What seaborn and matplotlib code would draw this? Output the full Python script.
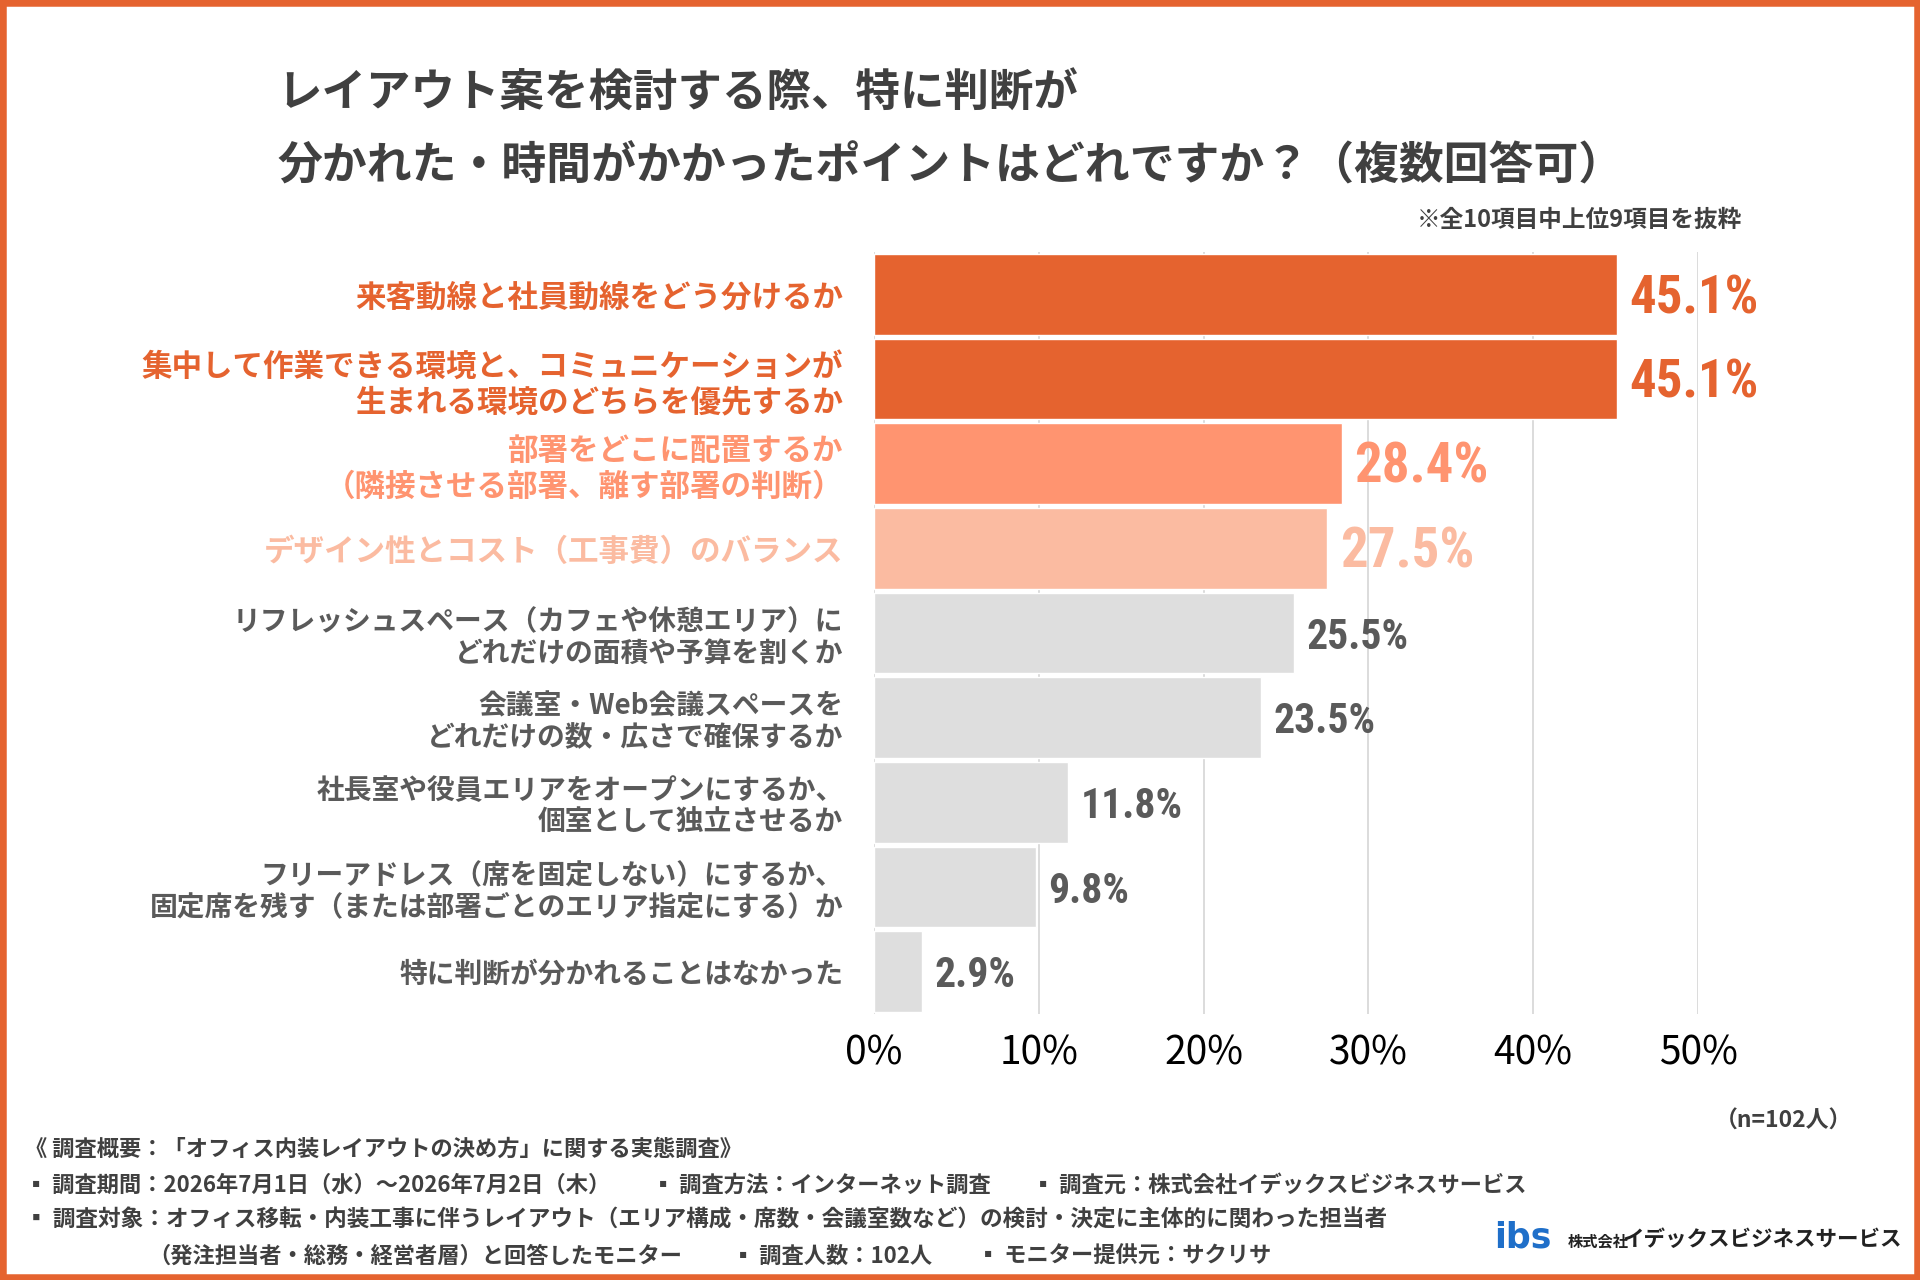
import matplotlib
matplotlib.use('Agg')
import matplotlib.pyplot as plt
from matplotlib import font_manager
import seaborn as sns
import pandas as pd
from matplotlib.patches import Rectangle

# ---------------- data ----------------
categories = [
    "来客動線と社員動線をどう分けるか",
    "集中して作業できる環境と、コミュニケーションが\n生まれる環境のどちらを優先するか",
    "部署をどこに配置するか\n（隣接させる部署、離す部署の判断）",
    "デザイン性とコスト（工事費）のバランス",
    "リフレッシュスペース（カフェや休憩エリア）に\nどれだけの面積や予算を割くか",
    "会議室・Web会議スペースを\nどれだけの数・広さで確保するか",
    "社長室や役員エリアをオープンにするか、\n個室として独立させるか",
    "フリーアドレス（席を固定しない）にするか、\n固定席を残す（または部署ごとのエリア指定にする）か",
    "特に判断が分かれることはなかった",
]
values = [45.1, 45.1, 28.4, 27.5, 25.5, 23.5, 11.8, 9.8, 2.9]
x_ticks = [0, 10, 20, 30, 40, 50]
x_tick_labels = ["0%", "10%", "20%", "30%", "40%", "50%"]

title_lines = ["レイアウト案を検討する際、特に判断が",
               "分かれた・時間がかかったポイントはどれですか？（複数回答可）"]
note_text = "※全10項目中上位9項目を抜粋"
n_text = "（n=102人）"
footer_lines = [
    "《 調査概要：「オフィス内装レイアウトの決め方」に関する実態調査》",
    "▪ 調査期間：2026年7月1日（水）～2026年7月2日（木）",
    "▪ 調査方法：インターネット調査",
    "▪ 調査元：株式会社イデックスビジネスサービス",
    "▪ 調査対象：オフィス移転・内装工事に伴うレイアウト（エリア構成・席数・会議室数など）の検討・決定に主体的に関わった担当者",
    "（発注担当者・総務・経営者層）と回答したモニター",
    "▪ 調査人数：102人",
    "▪ モニター提供元：サクリサ",
]
company_prefix = "株式会社"
company_name = "イデックスビジネスサービス"
logo_text = "ibs"

# ---------------- style ----------------
sns.set_theme(style="white")
plt.rcParams['font.family'] = ['Noto Sans CJK JP', 'DejaVu Sans']

ORANGE = "#E5632F"
MID = "#FF9470"
LIGHT = "#FBBBA1"
GRAY_BAR = "#DEDEDE"
GRAY_TXT = "#5A5A5A"
DARK = "#404040"
bar_colors = [ORANGE, ORANGE, MID, LIGHT] + [GRAY_BAR] * 5
label_colors = [ORANGE, ORANGE, MID, LIGHT] + [GRAY_TXT] * 5
value_colors = [ORANGE, ORANGE, MID, LIGHT] + [GRAY_TXT] * 5
label_sizes = [22, 22, 22, 22, 20, 20, 20, 20, 20]


def has_font(name):
    try:
        font_manager.findfont(font_manager.FontProperties(family=name),
                              fallback_to_default=False)
        return True
    except Exception:
        return False


narrow = None
for cand in ['Roboto Condensed', 'Liberation Sans Narrow', 'Open Sans Condensed']:
    if has_font(cand):
        narrow = cand
        break
if narrow:
    NUM_FONT = [narrow, 'Noto Sans CJK JP', 'DejaVu Sans']
    value_sizes = [38, 38, 39.5, 39.5, 30, 30, 30, 30, 30]
else:
    NUM_FONT = ['Noto Sans CJK JP', 'DejaVu Sans']
    value_sizes = [30, 30, 31, 31, 25, 25, 25, 25, 25]

W, H = 1920, 1280
fig = plt.figure(figsize=(19.2, 12.8), dpi=100)
fig.patch.set_facecolor("white")

ax_l, ax_r, ax_t, ax_b = 874, 1698, 252, 1014
ax = fig.add_axes([ax_l / W, 1 - ax_b / H, (ax_r - ax_l) / W, (ax_b - ax_t) / H])

df = pd.DataFrame({"cat": categories, "val": values})
sns.barplot(data=df, y="cat", x="val", hue="cat", palette=bar_colors,
            legend=False, width=0.95, saturation=1, ax=ax, orient="h")

ax.set_xlim(0, 50)
ax.set_xticks(x_ticks)
ax.set_xticklabels(x_tick_labels, fontsize=28, color="black")
ax.tick_params(axis="x", length=0, pad=14)
ax.set_axisbelow(True)
ax.xaxis.grid(True, color="#D6D6D6", linewidth=1.2)
ax.yaxis.grid(False)
for s in ax.spines.values():
    s.set_visible(False)
ax.set_xlabel("")
ax.set_ylabel("")

ax.set_yticks(range(len(categories)))
ax.set_yticklabels(categories, fontweight="bold")
ax.tick_params(axis="y", length=0, pad=22)
for lbl, c, fs in zip(ax.get_yticklabels(), label_colors, label_sizes):
    lbl.set_color(c)
    lbl.set_fontsize(fs)
    lbl.set_linespacing(1.15)

for i, v in enumerate(values):
    ax.annotate(f"{v:.1f}%", xy=(v, i), xytext=(9, -3), textcoords="offset points",
                ha="left", va="center", fontsize=value_sizes[i], fontweight="bold",
                color=value_colors[i], family=NUM_FONT, annotation_clip=False)

# ---------------- texts ----------------
def ft(x, y, s, **kw):
    fig.text(x / W, 1 - y / H, s, **kw)

ft(277, 94, title_lines[0], fontsize=32, fontweight="bold", color=DARK, va="center")
ft(277, 167, title_lines[1], fontsize=32.3, fontweight="bold", color=DARK, va="center")
ft(1742, 220, note_text, fontsize=17, fontweight="bold", color=DARK, va="center", ha="right")
ft(1852, 1121, n_text, fontsize=16.5, fontweight="bold", color=DARK, va="center", ha="right")

fkw = dict(fontsize=16, fontweight="bold", color=DARK, va="center")
ft(25, 1149, footer_lines[0], **fkw)
ft(25, 1185, footer_lines[1], **fkw)
ft(652, 1185, footer_lines[2], **fkw)
ft(1032, 1185, footer_lines[3], **fkw)
ft(25, 1220, footer_lines[4], fontsize=16.3, fontweight="bold", color=DARK, va="center")
ft(148, 1256, footer_lines[5], **fkw)
ft(732, 1256, footer_lines[6], **fkw)
ft(977, 1256, footer_lines[7], **fkw)

ft(1494, 1238, logo_text, fontsize=25, fontweight="bold", color="#1F6FC9", va="center",
   family=['DejaVu Sans'])
ft(1568, 1241, company_prefix, fontsize=11, fontweight="bold", color="#222222", va="center")
ft(1623, 1239, company_name, fontsize=15.5, fontweight="bold", color="#222222", va="center")

fig.add_artist(Rectangle((0, 0), 1, 1, transform=fig.transFigure, fill=False,
                         edgecolor=ORANGE, linewidth=9, clip_on=False))

fig.savefig("out.png", dpi=100, facecolor="white")
